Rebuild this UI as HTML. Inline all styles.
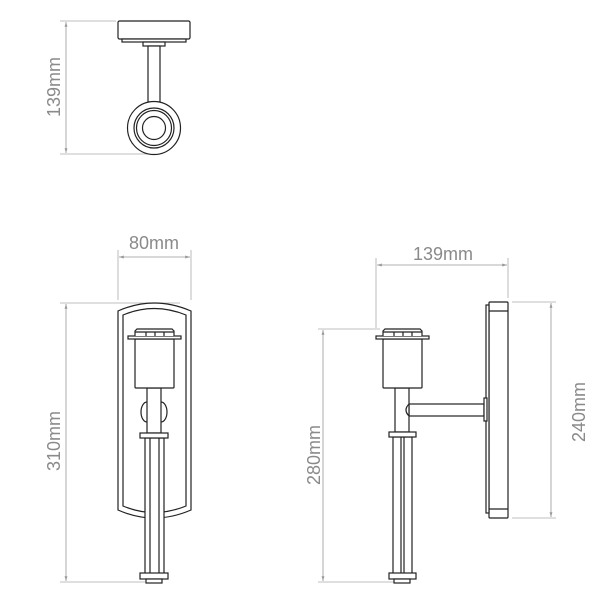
<!DOCTYPE html>
<html><head><meta charset="utf-8"><style>
html,body{margin:0;padding:0;background:#fff;}
svg{display:block}
text{font-family:"Liberation Sans",sans-serif;font-size:18px;fill:#8a8a8a}
</style></head><body>
<svg width="600" height="600" viewBox="0 0 600 600" xmlns="http://www.w3.org/2000/svg">
<defs>
<marker id="a" viewBox="0 0 10 10" refX="10" refY="5" markerWidth="6" markerHeight="6" orient="auto-start-reverse"><path d="M0,2 L10,5 L0,8 z" fill="#999"/></marker>
</defs>
<g stroke="#aaa" stroke-width="0.8" fill="none">
<line x1="60" y1="21" x2="116" y2="21"/><line x1="60" y1="154" x2="150" y2="154"/>
<line x1="66" y1="22" x2="66" y2="153" marker-start="url(#a)" marker-end="url(#a)" stroke="#999"/>
<line x1="118" y1="250" x2="118" y2="300"/><line x1="191" y1="250" x2="191" y2="300"/>
<line x1="119" y1="257" x2="190" y2="257" marker-start="url(#a)" marker-end="url(#a)" stroke="#999"/>
<line x1="60" y1="303" x2="180" y2="303"/><line x1="60" y1="582" x2="145" y2="582"/>
<line x1="66" y1="304" x2="66" y2="581" marker-start="url(#a)" marker-end="url(#a)" stroke="#999"/>
<line x1="376" y1="258" x2="376" y2="328"/><line x1="508" y1="258" x2="508" y2="298"/>
<line x1="377" y1="265" x2="507" y2="265" marker-start="url(#a)" marker-end="url(#a)" stroke="#999"/>
<line x1="318" y1="329" x2="380" y2="329"/><line x1="318" y1="582" x2="395" y2="582"/>
<line x1="323" y1="330" x2="323" y2="581" marker-start="url(#a)" marker-end="url(#a)" stroke="#999"/>
<line x1="512" y1="302" x2="556" y2="302"/><line x1="512" y1="518" x2="556" y2="518"/>
<line x1="551" y1="303" x2="551" y2="517" marker-start="url(#a)" marker-end="url(#a)" stroke="#999"/>
</g>
<text x="0" y="0" transform="translate(60,87) rotate(-90)" text-anchor="middle">139mm</text>
<text x="0" y="0" transform="translate(60,441) rotate(-90)" text-anchor="middle">310mm</text>
<text x="0" y="0" transform="translate(320,455) rotate(-90)" text-anchor="middle">280mm</text>
<text x="0" y="0" transform="translate(585,412) rotate(-90)" text-anchor="middle">240mm</text>
<text x="154" y="249" text-anchor="middle">80mm</text>
<text x="443" y="260" text-anchor="middle">139mm</text>

<g stroke="#222" stroke-width="1.2" fill="#fff">
<rect x="118" y="21" width="72" height="18" rx="1.5"/>
<rect x="122" y="39" width="64" height="3"/>
<rect x="143" y="42" width="22" height="4"/>
<rect x="148" y="46" width="12" height="56"/>
<circle cx="154" cy="128" r="26.5"/>
<circle cx="154" cy="128" r="20"/>
<circle cx="154" cy="128" r="17.5"/>
<circle cx="154" cy="128" r="11.5"/>

<path d="M118,311 Q154,295 191,311 L191,510 Q154,526 118,510 Z"/>
<path d="M123,315 Q154,302 186,315 L186,506 Q154,519 123,506 Z"/>
<path d="M147,422 A6,10 0 0 1 147,402 M161,402 A6,10 0 0 1 161,422" fill="none"/>
<rect x="147" y="388" width="14" height="45"/>
<rect x="135" y="339" width="39" height="49" rx="1"/>
<rect x="128" y="336" width="53" height="3"/>
<path d="M135,336 L135,331 L137,329 L172,329 L174,331 L174,336"/>
<line x1="135" y1="332" x2="174" y2="332"/>
<line x1="146" y1="332" x2="146" y2="336"/><line x1="155" y1="332" x2="155" y2="336"/><line x1="164" y1="332" x2="164" y2="336"/>
<rect x="145" y="438" width="19" height="136"/>
<line x1="150" y1="438" x2="150" y2="574"/><line x1="159" y1="438" x2="159" y2="574"/>
<rect x="140" y="433" width="28" height="5"/>
<rect x="140" y="573" width="28" height="6"/>
<rect x="146" y="579" width="16" height="4"/>

<rect x="489" y="302" width="19" height="216" rx="1"/>
<line x1="489" y1="311" x2="508" y2="311"/><line x1="489" y1="509" x2="508" y2="509"/>
<rect x="486" y="305" width="3" height="208"/>
<rect x="409" y="404" width="75" height="12"/>
<rect x="484" y="398" width="3" height="23"/>
<rect x="395" y="388" width="14" height="44"/>
<path d="M409,404 Q403,410 409,416" fill="none"/>
<rect x="383" y="339" width="39" height="49" rx="1"/>
<rect x="376" y="336" width="53" height="3"/>
<path d="M383,336 L383,331 L385,329 L420,329 L422,331 L422,336"/>
<line x1="383" y1="332" x2="422" y2="332"/>
<line x1="394" y1="332" x2="394" y2="336"/><line x1="403" y1="332" x2="403" y2="336"/><line x1="412" y1="332" x2="412" y2="336"/>
<rect x="393" y="437" width="19" height="137"/>
<line x1="401" y1="437" x2="401" y2="574"/><line x1="404" y1="437" x2="404" y2="574"/>
<rect x="389" y="432" width="27" height="5"/>
<rect x="389" y="573" width="27" height="6"/>
<rect x="394" y="579" width="16" height="4"/>
</g>
</svg>
</body></html>
